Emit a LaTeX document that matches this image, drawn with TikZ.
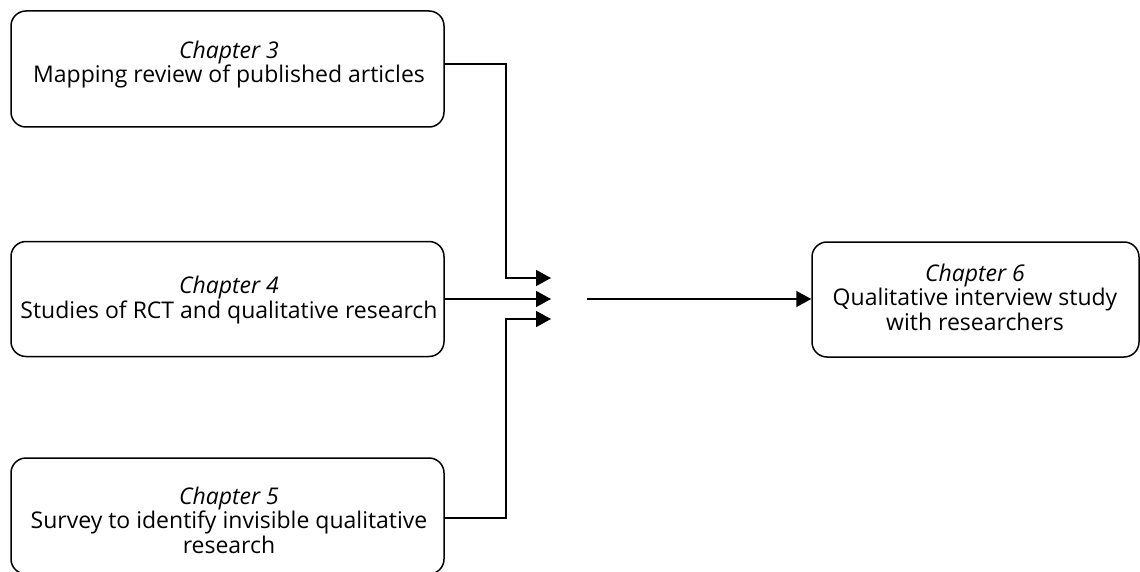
\documentclass[tikz,border=0pt]{standalone}
\usepackage{fontspec}
\setmainfont{Open Sans}
\usetikzlibrary{arrows.meta}
\begin{document}
\begin{tikzpicture}[x=1pt,y=-1pt,
  box/.style={draw,line width=1.5pt,rounded corners=15pt,inner sep=0pt},
  txt/.style={align=center,font=\fontsize{23}{24.5}\selectfont,inner sep=0pt,anchor=base},
  conn/.style={line width=1.5pt,-{Triangle[length=15pt,width=16pt]}}]
\useasboundingbox (0,0) rectangle (1140,572);
\node[box,minimum width=433pt,minimum height=116pt] (c3) at (227.5,69) {};
\node[box,minimum width=433pt,minimum height=115pt] (c4) at (227.5,299) {};
\node[box,minimum width=433pt,minimum height=116pt] (c5) at (227.5,516) {};
\node[box,minimum width=327pt,minimum height=115pt] (c6) at (975.5,299.5) {};
\node[txt] (c3t) at (229,83) {\textit{Chapter 3}\\Mapping review of published articles};
\node[txt] (c4t) at (229,318) {\textit{Chapter 4}\\Studies of RCT and qualitative research};
\node[txt] (c5t) at (229,553) {\textit{Chapter 5}\\Survey to identify invisible qualitative\\research};
\node[txt] (c6t) at (975,330) {\textit{Chapter 6}\\Qualitative interview study\\with researchers};
\coordinate (t1) at (551,278);
\coordinate (t2) at (551,299);
\coordinate (t3) at (551,319);
\coordinate (s6) at (587,299);
\draw[conn] (c3.east |- 0,64) -| (506,278) -- (t1);
\draw[conn] (c4.east) -- (t2);
\draw[conn] (c5.east |- 0,518) -| (506,319) -- (t3);
\draw[conn] (s6) -- (c6.west |- s6);
\end{tikzpicture}
\end{document}
